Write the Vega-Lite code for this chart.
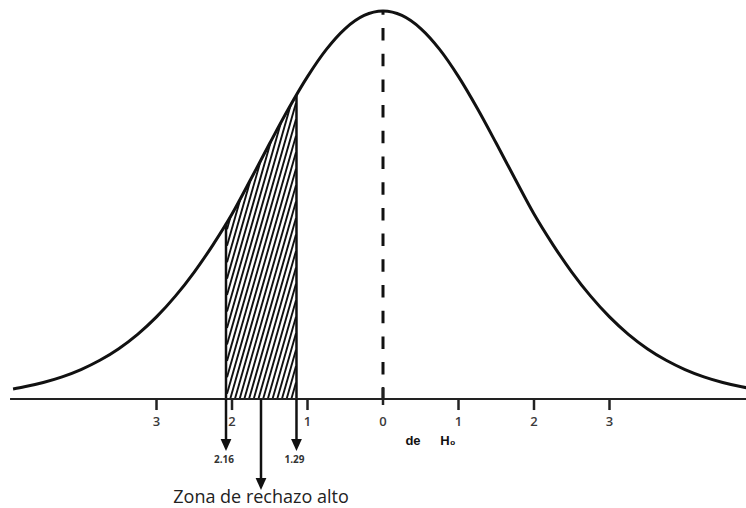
{
  "$schema": "https://vega.github.io/schema/vega-lite/v6.json",
  "width": 746,
  "height": 508,
  "padding": 0,
  "autosize": {"type": "none"},
  "background": "white",
  "config": {"view": {"stroke": null}},
  "datasets": {
    "curve": [
      {"x": -4.9, "y": 0.026}, {"x": -4.75, "y": 0.0315}, {"x": -4.5, "y": 0.0426}, {"x": -4.25, "y": 0.0571},
      {"x": -4.0, "y": 0.0759}, {"x": -3.75, "y": 0.0998}, {"x": -3.5, "y": 0.1297}, {"x": -3.25, "y": 0.1667},
      {"x": -3.0, "y": 0.2116}, {"x": -2.75, "y": 0.2651}, {"x": -2.5, "y": 0.3273}, {"x": -2.25, "y": 0.398},
      {"x": -2.0, "y": 0.4767}, {"x": -1.75, "y": 0.5669}, {"x": -1.5, "y": 0.659}, {"x": -1.25, "y": 0.7486},
      {"x": -1.0, "y": 0.8308}, {"x": -0.75, "y": 0.901}, {"x": -0.5, "y": 0.9547}, {"x": -0.25, "y": 0.9885},
      {"x": 0, "y": 1},
      {"x": 0.25, "y": 0.9885}, {"x": 0.5, "y": 0.9547}, {"x": 0.75, "y": 0.901}, {"x": 1.0, "y": 0.8308},
      {"x": 1.25, "y": 0.7486}, {"x": 1.5, "y": 0.659}, {"x": 1.75, "y": 0.5669}, {"x": 2.0, "y": 0.4767},
      {"x": 2.25, "y": 0.398}, {"x": 2.5, "y": 0.3273}, {"x": 2.75, "y": 0.2651}, {"x": 3.0, "y": 0.2116},
      {"x": 3.25, "y": 0.1667}, {"x": 3.5, "y": 0.1297}, {"x": 3.75, "y": 0.0998}, {"x": 4.0, "y": 0.0759},
      {"x": 4.25, "y": 0.0571}, {"x": 4.5, "y": 0.0426}, {"x": 4.75, "y": 0.0315}, {"x": 4.81, "y": 0.0292}
    ],
    "hatch": [
      {"x": -1.2146, "y": 0, "x2": -1.1523, "y2": 0.0424},
      {"x": -1.2768, "y": 0, "x2": -1.1523, "y2": 0.0848},
      {"x": -1.3391, "y": 0, "x2": -1.1523, "y2": 0.1272},
      {"x": -1.4013, "y": 0, "x2": -1.1523, "y2": 0.1696},
      {"x": -1.4636, "y": 0, "x2": -1.1523, "y2": 0.2120},
      {"x": -1.5258, "y": 0, "x2": -1.1523, "y2": 0.2544},
      {"x": -1.5881, "y": 0, "x2": -1.1523, "y2": 0.2968},
      {"x": -1.6503, "y": 0, "x2": -1.1523, "y2": 0.3392},
      {"x": -1.7126, "y": 0, "x2": -1.1523, "y2": 0.3816},
      {"x": -1.7748, "y": 0, "x2": -1.1523, "y2": 0.4240},
      {"x": -1.8371, "y": 0, "x2": -1.1523, "y2": 0.4664},
      {"x": -1.8993, "y": 0, "x2": -1.1523, "y2": 0.5088},
      {"x": -1.9616, "y": 0, "x2": -1.1523, "y2": 0.5512},
      {"x": -2.0238, "y": 0, "x2": -1.1523, "y2": 0.5936},
      {"x": -2.0662, "y": 0.0135, "x2": -1.1523, "y2": 0.6360},
      {"x": -2.0662, "y": 0.0559, "x2": -1.1523, "y2": 0.6784},
      {"x": -2.0662, "y": 0.0983, "x2": -1.1523, "y2": 0.7208},
      {"x": -2.0662, "y": 0.1407, "x2": -1.1523, "y2": 0.7631},
      {"x": -2.0662, "y": 0.1831, "x2": -1.1735, "y2": 0.7912},
      {"x": -2.0662, "y": 0.2255, "x2": -1.2358, "y2": 0.7912},
      {"x": -2.0662, "y": 0.2679, "x2": -1.2980, "y2": 0.7912},
      {"x": -2.0662, "y": 0.3103, "x2": -1.3603, "y2": 0.7912},
      {"x": -2.0662, "y": 0.3527, "x2": -1.4225, "y2": 0.7912},
      {"x": -2.0662, "y": 0.3951, "x2": -1.4848, "y2": 0.7912},
      {"x": -2.0662, "y": 0.4375, "x2": -1.5470, "y2": 0.7912}
    ],
    "edges": [
      {"x": -2.0795, "y": 0.4517},
      {"x": -1.146, "y": 0.7828}
    ],
    "ticks": [
      {"x": -3, "label": "3"}, {"x": -2, "label": "2"}, {"x": -1, "label": "1"},
      {"x": 1, "label": "1"}, {"x": 2, "label": "2"}, {"x": 3, "label": "3"}
    ],
    "arrows": [
      {"x": -2.0795, "label": "2.16"},
      {"x": -1.146, "label": "1.29"}
    ]
  },
  "layer": [
    {
      "data": {"name": "hatch"},
      "mark": {"type": "rule", "stroke": "#111111", "strokeWidth": 1.9},
      "encoding": {
        "x": {"field": "x", "type": "quantitative", "scale": {"domain": [-5.073, 4.808], "nice": false, "zero": false}, "axis": null},
        "y": {"field": "y", "type": "quantitative", "scale": {"domain": [-0.2809, 1.0284], "nice": false, "zero": false}, "axis": null},
        "x2": {"field": "x2"},
        "y2": {"field": "y2"}
      }
    },
    {
      "data": {"name": "curve"},
      "transform": [{"filter": {"field": "x", "range": [-2.5, -0.75]}}],
      "mark": {"type": "area", "fill": "white", "opacity": 1, "interpolate": "monotone"},
      "encoding": {
        "x": {"field": "x", "type": "quantitative"},
        "y": {"field": "y", "type": "quantitative"},
        "y2": {"datum": 1.0284}
      }
    },
    {
      "data": {"name": "edges"},
      "mark": {"type": "rule", "stroke": "#111111", "strokeWidth": 2.5},
      "encoding": {
        "x": {"field": "x", "type": "quantitative"},
        "y": {"field": "y", "type": "quantitative"},
        "y2": {"datum": 0}
      }
    },
    {
      "data": {"name": "curve"},
      "mark": {"type": "line", "stroke": "#111111", "strokeWidth": 3, "interpolate": "monotone"},
      "encoding": {
        "x": {"field": "x", "type": "quantitative"},
        "y": {"field": "y", "type": "quantitative"}
      }
    },
    {
      "data": {"values": [{"x": 0}]},
      "mark": {"type": "rule", "stroke": "#111111", "strokeWidth": 3, "strokeDash": [12.5, 13.2], "strokeDashOffset": 8.7},
      "encoding": {
        "x": {"field": "x", "type": "quantitative"},
        "y": {"datum": 1},
        "y2": {"datum": 0}
      }
    },
    {
      "data": {"values": [{"x": -4.94, "x2": 4.81}]},
      "mark": {"type": "rule", "stroke": "#222222", "strokeWidth": 2},
      "encoding": {
        "x": {"field": "x", "type": "quantitative"},
        "x2": {"field": "x2"},
        "y": {"datum": 0}
      }
    },
    {
      "data": {"name": "ticks"},
      "mark": {"type": "rule", "stroke": "#222222", "strokeWidth": 2.5},
      "encoding": {
        "x": {"field": "x", "type": "quantitative"},
        "y": {"datum": 0},
        "y2": {"datum": -0.0284}
      }
    },
    {
      "data": {"values": [{"x": 0}]},
      "mark": {"type": "rule", "stroke": "#222222", "strokeWidth": 2.5},
      "encoding": {
        "x": {"field": "x", "type": "quantitative"},
        "y": {"datum": 0.031},
        "y2": {"datum": -0.0155}
      }
    },
    {
      "data": {"values": [{"x": -3, "label": "3"}, {"x": -2, "label": "2"}, {"x": -1, "label": "1"}, {"x": 0, "label": "0"}, {"x": 1, "label": "1"}, {"x": 2, "label": "2"}, {"x": 3, "label": "3"}]},
      "mark": {"type": "text", "font": "Open Sans", "fontSize": 13, "fontWeight": 600, "fill": "#3a3a3a", "baseline": "middle", "align": "center"},
      "encoding": {
        "x": {"field": "x", "type": "quantitative"},
        "y": {"datum": -0.0593},
        "text": {"field": "label"}
      }
    },
    {
      "data": {"name": "arrows"},
      "mark": {"type": "rule", "stroke": "#111111", "strokeWidth": 2.5},
      "encoding": {
        "x": {"field": "x", "type": "quantitative"},
        "y": {"datum": 0},
        "y2": {"datum": -0.112}
      }
    },
    {
      "data": {"name": "arrows"},
      "mark": {"type": "point", "shape": "M-0.9,-1L0.9,-1L0,1Z", "size": 144, "filled": true, "fill": "#111111", "opacity": 1, "strokeWidth": 0},
      "encoding": {
        "x": {"field": "x", "type": "quantitative"},
        "y": {"datum": -0.1186}
      }
    },
    {
      "data": {"name": "arrows"},
      "mark": {"type": "text", "font": "Open Sans", "fontSize": 10, "fontWeight": "bold", "fill": "#333333", "baseline": "middle", "align": "center", "dx": -2},
      "encoding": {
        "x": {"field": "x", "type": "quantitative"},
        "y": {"datum": -0.157},
        "text": {"field": "label"}
      }
    },
    {
      "data": {"values": [{"x": -1.616}]},
      "mark": {"type": "rule", "stroke": "#111111", "strokeWidth": 2.5},
      "encoding": {
        "x": {"field": "x", "type": "quantitative"},
        "y": {"datum": 0},
        "y2": {"datum": -0.205}
      }
    },
    {
      "data": {"values": [{"x": -1.616}]},
      "mark": {"type": "point", "shape": "M-0.9,-1L0.9,-1L0,1Z", "size": 144, "filled": true, "fill": "#111111", "opacity": 1, "strokeWidth": 0},
      "encoding": {
        "x": {"field": "x", "type": "quantitative"},
        "y": {"datum": -0.219}
      }
    },
    {
      "data": {"values": [{"x": -1.616, "label": "Zona de rechazo alto"}]},
      "mark": {"type": "text", "font": "Open Sans", "fontSize": 18, "fill": "#222222", "baseline": "middle", "align": "center"},
      "encoding": {
        "x": {"field": "x", "type": "quantitative"},
        "y": {"datum": -0.255},
        "text": {"field": "label"}
      }
    },
    {
      "data": {"values": [{"x": 0.397, "label": "de"}, {"x": 0.86, "label": "H₀"}]},
      "mark": {"type": "text", "font": "Liberation Sans", "fontSize": 13, "fontWeight": "bold", "fill": "#111111", "baseline": "middle", "align": "center"},
      "encoding": {
        "x": {"field": "x", "type": "quantitative"},
        "y": {"datum": -0.108},
        "text": {"field": "label"}
      }
    }
  ]
}
